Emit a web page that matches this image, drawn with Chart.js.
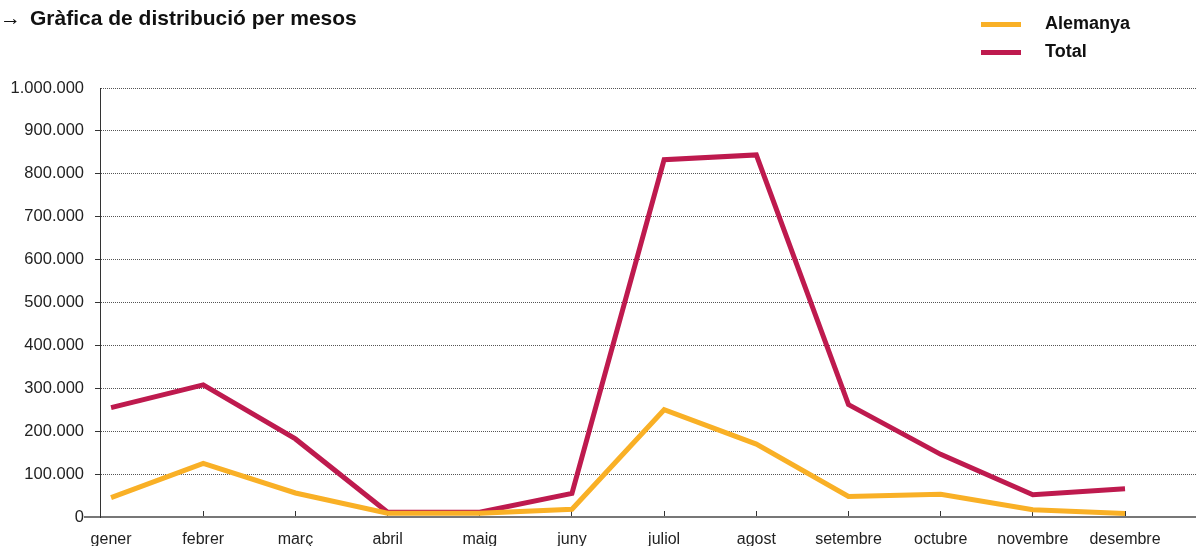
<!DOCTYPE html>
<html>
<head>
<meta charset="utf-8">
<script src="https://cdn.jsdelivr.net/npm/chart.js@4.4.1/dist/chart.umd.min.js"></script>
<style>
  body { margin: 0; background: #fff; font-family: "Liberation Sans", Arial, sans-serif; }
  #wrap { position: relative; width: 1196px; height: 546px; }
  #title { position: absolute; left: 0; top: 6px; font-size: 21px; font-weight: bold; color: #111; white-space: nowrap; }
  #title .arrow { font-weight: normal; display: inline-block; width: 30px; }
  #legend { position: absolute; left: 981px; top: 0; }
  .leg-item { position: absolute; left: 0; white-space: nowrap; font-size: 18px; font-weight: bold; color: #111; }
  .leg-swatch { position: absolute; left: 0; width: 40px; height: 5px; }
  .leg-text { position: absolute; left: 64px; top: 0; }
</style>
</head>
<body>
<div id="wrap">
  <canvas id="Chart1"></canvas>
  <div id="title"><span class="arrow">→</span>Gràfica de distribució per mesos</div>
  <div id="legend"></div>
</div>
<script>
// dades
let mesos = ["gener","febrer","març","abril","maig","juny","juliol","agost","setembre","octubre","novembre","desembre"]
let Alemanya = [45000, 125000, 56000, 9000, 9000, 18000, 250000, 170000, 48000, 53000, 17000, 8000]
let Total = [255000, 308000, 182000, 11000, 11000, 55000, 833000, 844000, 262000, 146000, 52000, 66000]
let series = ["Alemanya", "Total"]
let colors = ["#F9B026", "#BE1A4E"]
let yTicks = [0, 100000, 200000, 300000, 400000, 500000, 600000, 700000, 800000, 900000, 1000000]

const fmt = (v) => String(v).replace(/\B(?=(\d{3})+(?!\d))/g, ".")
const toPoints = (arr) => arr.map((v, i) => ({x: i, y: v}))

// llegenda html
let legend = document.getElementById("legend")
series.forEach((name, i) => {
    let item = document.createElement("div")
    item.className = "leg-item"
    item.style.top = (13 + i * 28) + "px"
    item.innerHTML = `<div class="leg-swatch" style="background:${colors[i]};top:${9}px"></div><div class="leg-text">${name}</div>`
    legend.appendChild(item)
})

// linia de l'eix x que surt per l'esquerra
const axisExtension = {
    id: "axisExtension",
    afterDraw(chart) {
        const {ctx, chartArea} = chart
        ctx.save()
        ctx.strokeStyle = "#777"
        ctx.lineWidth = 2
        ctx.beginPath()
        ctx.moveTo(84, chartArea.bottom)
        ctx.lineTo(chartArea.left, chartArea.bottom)
        ctx.stroke()
        ctx.restore()
    }
}

new Chart(document.getElementById("Chart1"), {
    type: "line",
    data: {
        datasets: [{
            label: series[0],
            data: toPoints(Alemanya),
            borderColor: colors[0],
            backgroundColor: colors[0],
            borderWidth: 5,
            pointRadius: 0,
            tension: 0
        },
        {
            label: series[1],
            data: toPoints(Total),
            borderColor: colors[1],
            backgroundColor: colors[1],
            borderWidth: 5,
            pointRadius: 0,
            tension: 0
        }]
    },
    options: {
        responsive: true,
        maintainAspectRatio: false,
        animation: false,
        layout: { padding: { top: 88, left: 0, right: 0, bottom: 0 } },
        plugins: {
            legend: { display: false },
            tooltip: { enabled: false },
            title: { display: false }
        },
        scales: {
            x: {
                type: "linear",
                min: -0.12,
                max: 11.77,
                afterBuildTicks: (scale) => { scale.ticks = mesos.map((m, i) => ({value: i})) },
                afterFit: (scale) => { scale.height = 29 },
                grid: {
                    drawOnChartArea: false,
                    drawTicks: true,
                    tickLength: -6,
                    tickColor: (ctx) => ctx.index === 0 ? "rgba(0,0,0,0)" : "#333",
                    tickWidth: 1
                },
                border: { display: true, color: "#777", width: 2 },
                ticks: {
                    autoSkip: false,
                    maxRotation: 0,
                    padding: 19,
                    color: "#222",
                    font: { family: "'Liberation Sans', Arial, sans-serif", size: 16 },
                    callback: (v) => mesos[v]
                }
            },
            y: {
                min: 0,
                max: 1000000,
                afterBuildTicks: (scale) => { scale.ticks = yTicks.map(v => ({value: v})) },
                afterFit: (scale) => { scale.width = 100 },
                grid: {
                    color: "#555",
                    lineWidth: 1,
                    drawTicks: true,
                    tickLength: 5,
                    tickColor: (ctx) => ctx.index === yTicks.length - 1 ? "rgba(0,0,0,0)" : "#333"
                },
                border: { display: true, color: "#333", width: 1, dash: [1, 1] },
                ticks: {
                    padding: 11,
                    color: "#222",
                    font: { family: "'Liberation Sans', Arial, sans-serif", size: 16.5 },
                    callback: (v) => fmt(v)
                }
            }
        }
    },
    plugins: [axisExtension]
})
</script>
</body>
</html>
